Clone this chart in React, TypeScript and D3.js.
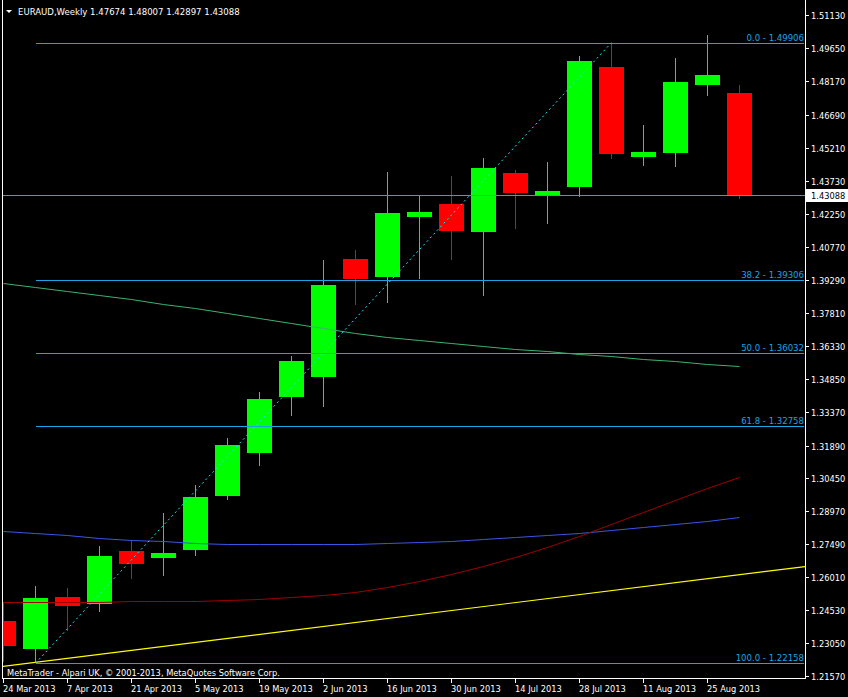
import React from "react";
import * as d3 from "d3";

const W = 848;
const H = 697;

// weekly bars, 24 Mar 2013 .. 1 Sep 2013
const opens = [1.2403, 1.2278, 1.251, 1.2479, 1.2716, 1.2685, 1.2721, 1.2962, 1.3156, 1.3407, 1.3496, 1.4023, 1.3942, 1.4211, 1.4269, 1.4143, 1.4407, 1.4305, 1.4346, 1.4882, 1.4479, 1.4498, 1.4801, 1.47674];
const highs = [1.2488, 1.256, 1.2551, 1.2739, 1.2765, 1.2886, 1.3011, 1.3223, 1.3428, 1.3589, 1.4018, 1.4063, 1.4412, 1.4305, 1.4394, 1.4475, 1.4421, 1.4457, 1.4931, 1.49906, 1.4622, 1.4922, 1.5025, 1.48007];
const lows = [1.2222, 1.22158, 1.2358, 1.2443, 1.2591, 1.2604, 1.2694, 1.2944, 1.3098, 1.3322, 1.3362, 1.3817, 1.3826, 1.3933, 1.4018, 1.3857, 1.4157, 1.4179, 1.4301, 1.4471, 1.444, 1.4436, 1.4753, 1.42897];
const closes = [1.2291, 1.2506, 1.247, 1.2694, 1.2658, 1.2707, 1.2958, 1.319, 1.3396, 1.3566, 1.3906, 1.3933, 1.4228, 1.4233, 1.4148, 1.443, 1.4318, 1.4327, 1.4909, 1.4494, 1.4501, 1.4815, 1.4846, 1.43088];

const maGreen = [1.39152, 1.38973, 1.38794, 1.38615, 1.38436, 1.38235, 1.38034, 1.3781, 1.37586, 1.37363, 1.37139, 1.36915, 1.36736, 1.36602, 1.36468, 1.36334, 1.36222, 1.3611, 1.35998, 1.35886, 1.35774, 1.35662, 1.35542, 1.35425];
const maBlue = [1.28056, 1.27967, 1.27877, 1.27765, 1.27676, 1.27609, 1.27542, 1.27506, 1.27483, 1.27475, 1.27475, 1.27497, 1.27519, 1.27564, 1.27631, 1.27698, 1.27788, 1.27877, 1.27989, 1.28101, 1.28235, 1.28369, 1.28526, 1.28683];
const maRed = [1.24893, 1.24893, 1.24902, 1.24911, 1.24924, 1.24933, 1.24956, 1.24991, 1.25045, 1.25126, 1.25193, 1.25349, 1.25551, 1.25819, 1.26132, 1.2649, 1.26893, 1.2734, 1.27832, 1.28369, 1.28906, 1.29443, 1.2998, 1.30472];

// yellow trend line anchors (bar index, price)
const trendIdx = [0, 23];
const trendPrice = [1.22016, 1.26114];

// fibonacci
const fibLevels = [0, 38.2, 50, 61.8, 100];
const fibHigh = 1.49906;
const fibLow = 1.22158;
const fibHighIdx = 19;
const fibLowIdx = 1;

const yTicks = [1.5113, 1.4965, 1.4817, 1.4669, 1.4521, 1.4373, 1.4225, 1.4077, 1.3929, 1.3781, 1.3633, 1.3485, 1.3337, 1.3189, 1.3045, 1.2897, 1.2749, 1.2601, 1.2453, 1.2305, 1.2157];
const xTickLabels = ["24 Mar 2013", "7 Apr 2013", "21 Apr 2013", "5 May 2013", "19 May 2013", "2 Jun 2013", "16 Jun 2013", "30 Jun 2013", "14 Jul 2013", "28 Jul 2013", "11 Aug 2013", "25 Aug 2013"];
const lastPrice = 1.43088;
const title = "EURAUD,Weekly  1.47674 1.48007 1.42897 1.43088";
const copyright = "MetaTrader - Alpari UK, \u00a9 2001-2013, MetaQuotes Software Corp.";

const FONT = "'DejaVu Sans Condensed', 'DejaVu Sans', 'Liberation Sans', sans-serif";

export default function App() {
  const plotL = 3;
  const plotR = 805;
  const plotB = 678;
  const y = d3.scaleLinear().domain([1.2157, 1.5113]).range([676.3, 15.3]);
  const x = d3.scaleLinear().domain([0, 23]).range([3.5, 739.5]);
  const n = opens.length;
  const idx = d3.range(n);

  const maLine = (vals: number[]) =>
    d3.line<number>().x((_, i) => x(i)).y((v) => Math.round(y(v)) + 0.5)(vals) || "";

  const tx0 = x(trendIdx[0]);
  const tx1 = x(trendIdx[1]);
  const ty0 = y(trendPrice[0]);
  const ty1 = y(trendPrice[1]);
  const slope = (ty1 - ty0) / (tx1 - tx0);
  const yAt = (px: number) => ty0 + slope * (px - tx0);

  const fibX0 = x(fibLowIdx);
  const candleW = 25;

  return (
    <svg
      width={W}
      height={H}
      style={{ position: "absolute", left: 0, top: 0, display: "block" }}
      fontFamily={FONT}
    >
      <defs>
        <clipPath id="plot">
          <rect x={plotL} y={0} width={plotR - plotL} height={plotB} />
        </clipPath>
      </defs>
      <rect x={0} y={0} width={W} height={H} fill="#000" />

      <g clipPath="url(#plot)">
        {idx.map((i) => {
          const bull = closes[i] >= opens[i];
          const col = bull ? "#00ff00" : "#ff0000";
          const cx = x(i);
          const top = Math.round(y(Math.max(opens[i], closes[i])));
          const bot = Math.round(y(Math.min(opens[i], closes[i])));
          return (
            <g key={i}>
              <line
                x1={cx}
                x2={cx}
                y1={Math.round(y(highs[i]))}
                y2={Math.round(y(lows[i]))}
                stroke={col}
                strokeWidth={1}
                shapeRendering="crispEdges"
              />
              <rect
                x={cx - candleW / 2}
                y={top}
                width={candleW}
                height={Math.max(1, bot - top)}
                fill={col}
                shapeRendering="crispEdges"
              />
            </g>
          );
        })}

        <path d={maLine(maGreen)} fill="none" stroke="#3cb371" strokeWidth={1} />
        <path d={maLine(maBlue)} fill="none" stroke="#3a56e8" strokeWidth={1} />
        <path d={maLine(maRed)} fill="none" stroke="#a00000" strokeWidth={1} />
        <line x1={0} y1={yAt(0)} x2={plotR} y2={yAt(plotR)} stroke="#ffff00" strokeWidth={1.2} />

        <line
          x1={plotL}
          x2={plotR}
          y1={Math.round(y(lastPrice)) + 0.5}
          y2={Math.round(y(lastPrice)) + 0.5}
          stroke="#778899"
          strokeWidth={1}
          shapeRendering="crispEdges"
        />

        {fibLevels.map((lv) => {
          const p = fibHigh - ((fibHigh - fibLow) * lv) / 100;
          const yy = Math.round(y(p)) + 0.5;
          return (
            <g key={lv}>
              <line
                x1={fibX0}
                x2={plotR - 1}
                y1={yy}
                y2={yy}
                stroke="#1ba3e6"
                strokeWidth={1}
                shapeRendering="crispEdges"
              />
              <text x={804} y={yy - 3} textAnchor="end" fontSize={9.5} fill="#1ba3e6">
                {`${lv.toFixed(1)} - ${p.toFixed(5)}`}
              </text>
            </g>
          );
        })}
        <line
          x1={x(fibLowIdx)}
          y1={y(fibLow)}
          x2={x(fibHighIdx)}
          y2={y(fibHigh)}
          stroke="#22e0ff"
          strokeWidth={1}
          strokeDasharray="2,3"
        />
      </g>

      <line x1={plotL - 0.5} x2={plotL - 0.5} y1={0} y2={plotB} stroke="#fff" strokeWidth={1} />
      <line x1={plotR + 0.5} x2={plotR + 0.5} y1={0} y2={plotB + 1} stroke="#fff" strokeWidth={1} />
      <line x1={plotL - 1} x2={plotR + 1} y1={plotB + 0.5} y2={plotB + 0.5} stroke="#fff" strokeWidth={1} />

      {yTicks.map((v) => {
        const yy = Math.round(y(v)) + 0.5;
        return (
          <g key={v}>
            <line x1={plotR + 1} x2={plotR + 4} y1={yy} y2={yy} stroke="#fff" shapeRendering="crispEdges" />
            <text x={811} y={yy + 3.5} fontSize={9.2} fill="#fff">
              {v.toFixed(5)}
            </text>
          </g>
        );
      })}
      <rect x={806} y={Math.round(y(lastPrice)) - 6} width={42} height={13} fill="#fff" />
      <text x={811} y={Math.round(y(lastPrice)) + 4} fontSize={9.2} fill="#000">
        {lastPrice.toFixed(5)}
      </text>

      {xTickLabels.map((lab, k) => {
        const xx = Math.floor(x(k * 2)) + 0.5;
        return (
          <g key={lab}>
            <line x1={xx} x2={xx} y1={plotB + 1} y2={plotB + 5} stroke="#fff" shapeRendering="crispEdges" />
            <text x={xx - 0.5} y={692} fontSize={9.2} fill="#fff">
              {lab}
            </text>
          </g>
        );
      })}

      <path d="M6,10 L12,10 L9,13 Z" fill="#fff" />
      <text x={18} y={14.5} fontSize={9.5} fill="#fff">
        {title}
      </text>
      <text x={7} y={676} fontSize={9.2} fill="#fff">
        {copyright}
      </text>
    </svg>
  );
}
